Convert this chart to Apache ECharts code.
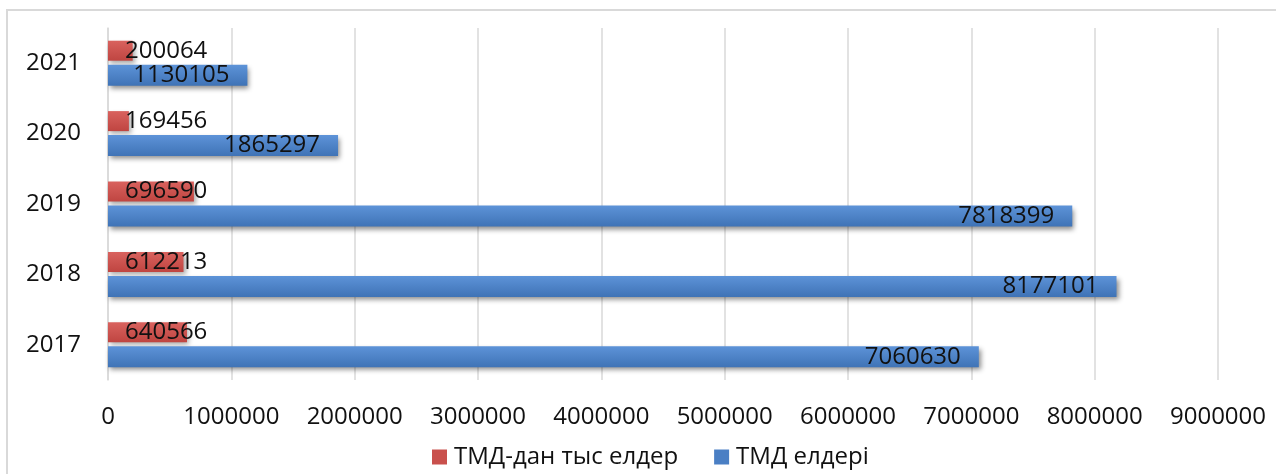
<!DOCTYPE html>
<html>
<head>
<meta charset="utf-8">
<script src="https://cdn.jsdelivr.net/npm/echarts@6/dist/echarts.min.js"></script>
<style>
html,body{margin:0;padding:0;background:#fff;}
#chart{width:1276px;height:474px;}
</style>
</head>
<body>
<div id="chart"></div>
<script>
var categories = ['2017', '2018', '2019', '2020', '2021'];
var seriesNames = ['ТМД-дан тыс елдер', 'ТМД елдері'];
var nonCisValues = [640566, 612213, 696590, 169456, 200064];
var cisValues = [7060630, 8177101, 7818399, 1865297, 1130105];
var xTicks = { min: 0, max: 9000000, interval: 1000000 };

var FONT = '"Open Sans", "Noto Sans", sans-serif';
var chart = echarts.init(document.getElementById('chart'), null, { renderer: 'canvas' });

function grad(top, bottom) {
  return new echarts.graphic.LinearGradient(0, 0, 0, 1, [
    { offset: 0, color: top },
    { offset: 1, color: bottom }
  ]);
}

chart.setOption({
  backgroundColor: '#ffffff',
  animation: false,
  textStyle: { fontFamily: FONT },
  graphic: [{
    type: 'rect',
    shape: { x: 7, y: 10, width: 1300, height: 500 },
    style: { fill: 'none', stroke: '#d9d9d9', lineWidth: 2 },
    silent: true, z: -1
  }],
  grid: { left: 108, right: 58, top: 28, bottom: 94, containLabel: false },
  legend: {
    left: 427, top: 440,
    itemWidth: 15, itemHeight: 15, itemGap: 36,
    icon: 'rect',
    textStyle: { fontFamily: FONT, fontSize: 24, color: '#111', padding: [0, 0, 0, 2] },
    data: [
      { name: seriesNames[0], itemStyle: { color: '#c9504c' } },
      { name: seriesNames[1], itemStyle: { color: '#4a7fc4' } }
    ]
  },
  xAxis: {
    type: 'value',
    min: xTicks.min, max: xTicks.max, interval: xTicks.interval,
    axisLine: { show: false },
    axisTick: { show: false },
    axisLabel: { fontFamily: FONT, fontSize: 24, color: '#111', margin: 25,
      formatter: function (v) { return String(v); } },
    splitLine: { show: true, lineStyle: { color: '#d9d9d9', width: 1.5 } }
  },
  yAxis: {
    type: 'category',
    data: categories,
    axisLine: { show: true, lineStyle: { color: '#d9d9d9', width: 1.5 } },
    axisTick: { show: false },
    axisLabel: { fontFamily: FONT, fontSize: 24, color: '#111', margin: 27 }
  },
  series: [
    {
      name: seriesNames[0], type: 'bar', data: nonCisValues,
      barWidth: 20, barGap: '20%',
      itemStyle: {
        color: grad('#d9625e', '#bf4541'),
        shadowBlur: 5, shadowOffsetX: 2, shadowOffsetY: 3, shadowColor: 'rgba(0,0,0,0.35)'
      },
      label: {
        show: true, position: 'insideLeft', distance: 17,
        fontFamily: FONT, fontSize: 24, color: '#111'
      }
    },
    {
      name: seriesNames[1], type: 'bar', data: cisValues,
      barWidth: 21,
      itemStyle: {
        color: grad('#5d93d8', '#3f73b6'),
        shadowBlur: 5, shadowOffsetX: 2, shadowOffsetY: 3, shadowColor: 'rgba(0,0,0,0.45)'
      },
      label: {
        show: true, position: 'insideRight', distance: 18,
        fontFamily: FONT, fontSize: 24, color: '#111'
      }
    }
  ]
});
</script>
</body>
</html>
